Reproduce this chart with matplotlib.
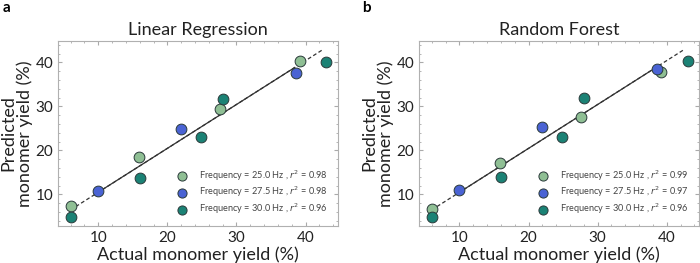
import matplotlib.pyplot as plt
from matplotlib.ticker import MultipleLocator, AutoMinorLocator

plt.rcParams['font.family'] = ['Lato', 'DejaVu Sans']

# actual vs predicted monomer yield (%), per panel and frequency
lr_25_x = [6.1, 15.9, 27.6, 39.2]
lr_25_y = [7.4, 18.4, 29.5, 40.4]
lr_275_x = [10.0, 22.0, 38.6]
lr_275_y = [10.7, 24.9, 37.6]
lr_30_x = [6.1, 16.0, 24.9, 28.0, 42.9]
lr_30_y = [4.8, 13.8, 23.0, 31.7, 40.1]

rf_25_x = [6.0, 15.9, 27.6, 39.2]
rf_25_y = [6.8, 17.2, 27.7, 37.8]
rf_275_x = [10.0, 22.0, 38.6]
rf_275_y = [11.0, 25.4, 38.4]
rf_30_x = [6.0, 16.0, 24.9, 28.0, 43.0]
rf_30_y = [4.8, 13.9, 23.0, 31.8, 40.2]

# regression line: dashed over full span, solid over the middle
line_x = [6.0, 42.6]
line_y = [6.5, 43.0]
solid_x = [10.0, 38.3]
solid_y = [10.5, 38.7]

lr_r2 = ['0.98', '0.98', '0.96']
rf_r2 = ['0.99', '0.97', '0.96']
freqs = ['25.0', '27.5', '30.0']
colors = ['#8fbf94', '#4a63d4', '#1b8275']

fig, axes = plt.subplots(1, 2, figsize=(7, 2.63), dpi=100)
plt.subplots_adjust(left=0.083, right=0.999, bottom=0.14, top=0.845, wspace=0.29)

panels = [
    (axes[0], 'Linear Regression',
     [(lr_25_x, lr_25_y), (lr_275_x, lr_275_y), (lr_30_x, lr_30_y)], lr_r2),
    (axes[1], 'Random Forest',
     [(rf_25_x, rf_25_y), (rf_275_x, rf_275_y), (rf_30_x, rf_30_y)], rf_r2),
]

for ax, title, series, r2 in panels:
    ax.plot(line_x, line_y, color='#333333', lw=0.9, ls=(0, (3, 2)), zorder=2)
    ax.plot(solid_x, solid_y, color='#333333', lw=0.9, zorder=2)
    for (xs, ys), c, f, r in zip(series, colors, freqs, r2):
        ax.scatter(xs, ys, s=60, color=c, edgecolor='#2a3a3a', linewidth=0.7, zorder=3,
                   label='Frequency = %s Hz , $r^2$ = %s' % (f, r))
    ax.set_xlim(4.2, 44.7)
    ax.set_ylim(2.8, 44.9)
    ax.xaxis.set_major_locator(MultipleLocator(10))
    ax.yaxis.set_major_locator(MultipleLocator(10))
    ax.xaxis.set_minor_locator(AutoMinorLocator(5))
    ax.yaxis.set_minor_locator(AutoMinorLocator(5))
    ax.tick_params(which='both', direction='in', top=True, right=True, color='#aaaaaa')
    ax.tick_params(which='major', length=3, labelsize=11, labelcolor='#222222')
    ax.tick_params(which='minor', length=1.5)
    for sp in ax.spines.values():
        sp.set_color('#b0b0b0')
    ax.set_title(title, fontsize=13, color='#222222', pad=4)
    ax.set_xlabel('Actual monomer yield (%)', fontsize=13, color='#222222', labelpad=1)
    ax.set_ylabel('Predicted\nmonomer yield (%)', fontsize=13, color='#222222',
                  labelpad=2, linespacing=1.0)
    ax.legend(loc='lower right', frameon=False, fontsize=6.6, handletextpad=0.9,
              labelspacing=0.25, borderaxespad=0.7, markerscale=0.85,
              labelcolor='#444444')

fig.text(0.004, 0.995, 'a', fontsize=11, fontweight='bold', va='top', ha='left')
fig.text(0.517, 0.995, 'b', fontsize=11, fontweight='bold', va='top', ha='left')

fig.savefig('out.png', dpi=100)
